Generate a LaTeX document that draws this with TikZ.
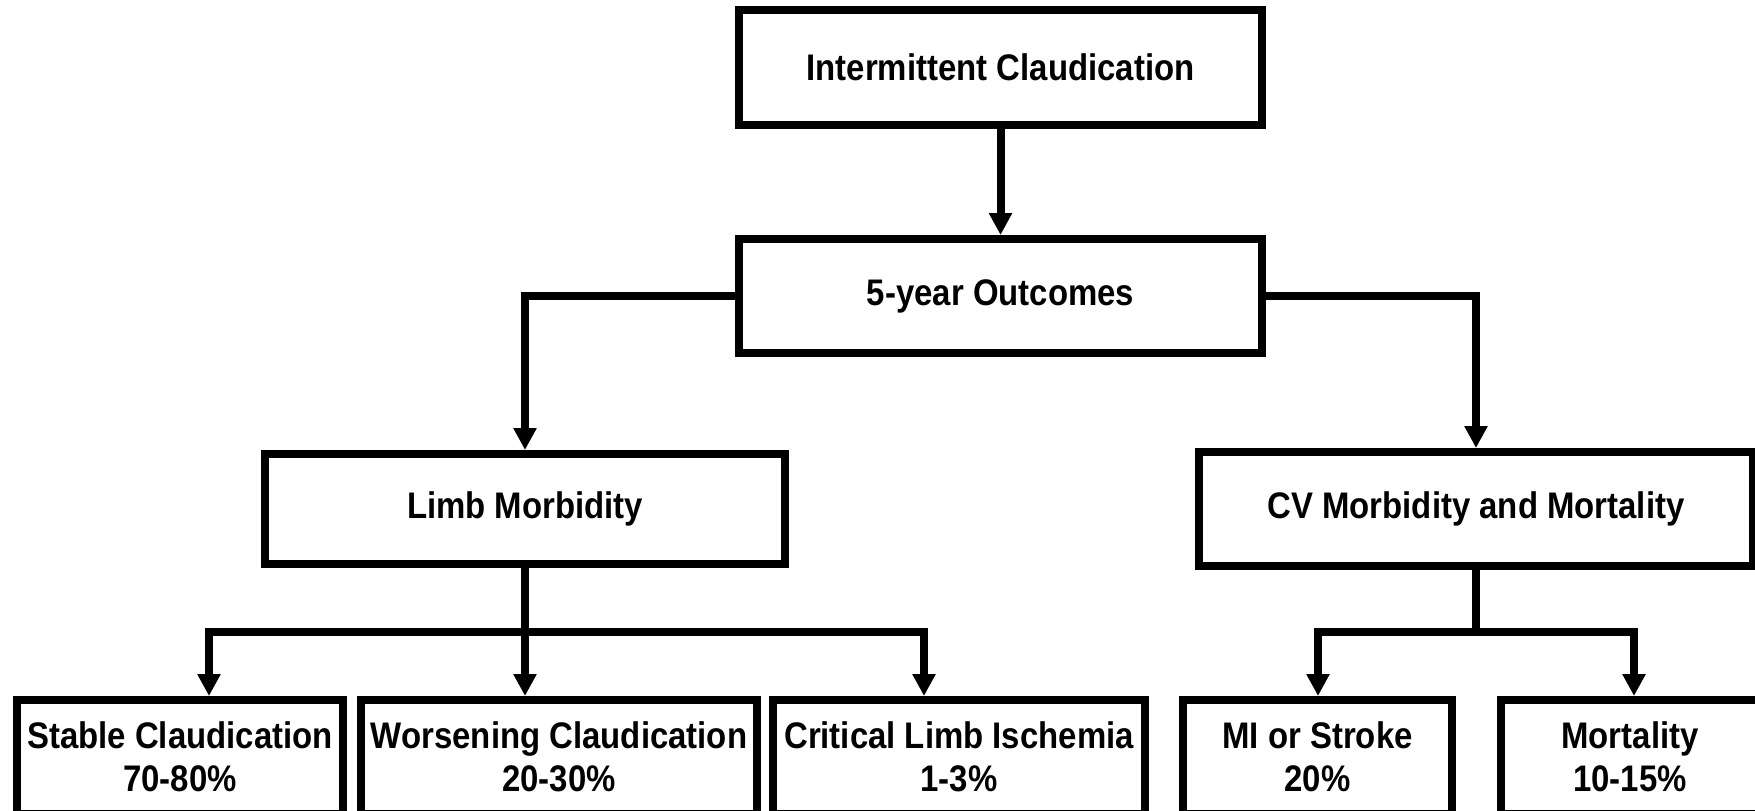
\documentclass[tikz,border=0pt]{standalone}
\usepackage{fontspec}
\setmainfont{Liberation Sans}[FakeStretch=0.89]
\usetikzlibrary{arrows.meta}
\begin{document}
\begin{tikzpicture}[x=0.5pt,y=-0.5pt,
  box/.style={draw=black, line width=4pt, fill=white, inner sep=0pt, align=center,
    font=\fontsize{18.5}{21.5}\selectfont\bfseries},
  conn/.style={draw=black, line width=4pt, line join=miter},
  tip/.style={-{Triangle[width=11pt,length=11pt]}},
  tips/.style={{Triangle[width=11pt,length=11pt]}-{Triangle[width=11pt,length=11pt]}}
]
\useasboundingbox (0,0) rectangle (1755,810);
% boxes
\node[box, minimum width=261.5pt, minimum height=57.5pt] (top) at (1000.5,67.5) {Intermittent Claudication};
\node[box, minimum width=261.5pt, minimum height=57pt] (five) at (1000.5,296) {5-year Outcomes};
\node[box, minimum width=260pt, minimum height=55pt] (limb) at (525,509) {Limb Morbidity};
\node[box, minimum width=277pt, minimum height=57pt] (cv) at (1476,509) {CV Morbidity and Mortality};
\node[box, minimum width=163pt, minimum height=57pt] (stable) at (180,757) {Stable Claudication\\70-80\%};
\node[box, minimum width=198pt, minimum height=57pt] (worse) at (559,757) {Worsening Claudication\\20-30\%};
\node[box, minimum width=186pt, minimum height=57pt] (crit) at (959,757) {Critical Limb Ischemia\\1-3\%};
\node[box, minimum width=134.5pt, minimum height=57pt] (mi) at (1317.5,757) {MI or Stroke\\20\%};
\node[box, minimum width=129pt, minimum height=57pt] (mort) at (1630,757) {Mortality\\10-15\%};
% junction points
\coordinate (s1) at (209,632);
\coordinate (c1) at (924,632);
\coordinate (m1) at (1318,632);
\coordinate (m2) at (1634,632);
% connectors
\draw[conn, tip] (top.south) -- (five.north);
\draw[conn, tip] (five.west) -| (limb.north);
\draw[conn, tip] (five.east) -| (cv.north);
\draw[conn, tips] (s1 |- stable.north) -- (s1) -- (c1) -- (c1 |- crit.north);
\draw[conn, tip] (limb.south) -- (limb.south |- worse.north);
\draw[conn, tips] (m1 |- mi.north) -- (m1) -- (m2) -- (m2 |- mort.north);
\draw[conn] (cv.south) -- (cv.south |- m1);
\end{tikzpicture}
\end{document}
